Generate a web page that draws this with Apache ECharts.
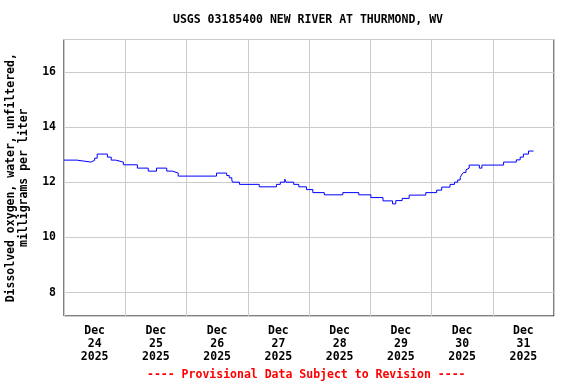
<!DOCTYPE html>
<html>
<head>
<meta charset="utf-8">
<script src="https://cdn.jsdelivr.net/npm/echarts@6/dist/echarts.min.js"></script>
<style>html,body{margin:0;padding:0;background:#fff;}#c{width:576px;height:384px;}</style>
</head>
<body>
<div id="c"></div>
<script>
// Data (UTC times, mg/L)
const times = [
  '2025-12-24T00:00','2025-12-24T05:00','2025-12-24T10:30','2025-12-24T12:00','2025-12-24T13:00',
  '2025-12-24T17:00','2025-12-24T18:30','2025-12-24T20:15','2025-12-24T23:15','2025-12-25T04:45',
  '2025-12-25T09:00','2025-12-25T12:15','2025-12-25T16:15','2025-12-25T18:30','2025-12-25T20:45',
  '2025-12-26T11:45','2025-12-26T15:45','2025-12-26T16:45','2025-12-26T17:45','2025-12-26T18:00',
  '2025-12-26T20:45','2025-12-27T04:30','2025-12-27T11:15','2025-12-27T12:45','2025-12-27T14:30',
  '2025-12-27T15:00','2025-12-27T18:00','2025-12-27T20:00','2025-12-27T23:00','2025-12-28T01:30',
  '2025-12-28T06:00','2025-12-28T13:15','2025-12-28T19:30','2025-12-29T00:15','2025-12-29T05:00',
  '2025-12-29T08:45','2025-12-29T10:00','2025-12-29T12:30','2025-12-29T15:15','2025-12-29T21:45',
  '2025-12-30T02:00','2025-12-30T04:00','2025-12-30T07:15','2025-12-30T09:00','2025-12-30T10:15',
  '2025-12-30T11:15','2025-12-30T11:45','2025-12-30T12:30','2025-12-30T13:30','2025-12-30T14:00',
  '2025-12-30T14:45','2025-12-30T18:45','2025-12-30T19:45','2025-12-31T04:15','2025-12-31T09:15',
  '2025-12-31T10:45','2025-12-31T12:00','2025-12-31T14:00','2025-12-31T16:00'
];
const oxygen = [
  12.81,12.74,12.80,12.88,13.03,
  12.92,12.81,12.74,12.64,12.52,
  12.41,12.52,12.41,12.34,12.23,
  12.34,12.25,12.17,12.09,12.01,
  11.93,11.84,11.93,12.01,12.12,
  12.01,11.93,11.84,11.74,11.63,
  11.55,11.63,11.55,11.45,11.33,
  11.22,11.34,11.42,11.54,11.63,
  11.72,11.83,11.93,12.01,12.09,
  12.18,12.27,12.36,12.46,12.52,
  12.63,12.52,12.63,12.74,12.82,
  12.92,13.03,13.14,13.14
];
const dayMonth = 'Dec';
const dayNumbers = ['24','25','26','27','28','29','30','31'];
const dayYear = '2025';
const yTicks = [8, 10, 12, 14, 16];

const titleText = 'USGS 03185400 NEW RIVER AT THURMOND, WV';
const footText = '---- Provisional Data Subject to Revision ----';
const yName = 'Dissolved oxygen, water, unfiltered,\nmilligrams per liter';

const FONT = '"DejaVu Sans Mono", "Liberation Mono", monospace';
const DAY = 86400000;
const xMin = Date.UTC(2025, 11, 24);
const xMax = Date.UTC(2026, 0, 1);
const toMs = s => new Date(s + ':00Z').getTime();
const seriesData = times.map((t, i) => [toMs(t), oxygen[i]]);
const dayLabels = dayNumbers.map(d => dayMonth + '\n' + d + '\n' + dayYear);

const chart = echarts.init(document.getElementById('c'), null, {renderer: 'canvas'});
chart.setOption({
  animation: false,
  backgroundColor: '#ffffff',
  title: [
    {text: titleText, left: 173, top: 14, padding: 0,
     textStyle: {fontFamily: FONT, fontSize: 11.5, fontWeight: 'bold', color: '#000'}},
    {text: footText, left: 147, top: 369, padding: 0,
     textStyle: {fontFamily: FONT, fontSize: 11.5, fontWeight: 'bold', color: '#ff0000'}}
  ],
  grid: {left: 64, top: 39.5, right: 22, bottom: 68, show: true, borderColor: '#000', borderWidth: 1,
         backgroundColor: 'transparent', containLabel: false, outerBoundsMode: 'none'},
  xAxis: [
    {type: 'value', min: xMin, max: xMax, interval: DAY,
     axisLine: {show: false}, axisTick: {show: false}, axisLabel: {show: false},
     splitLine: {show: true, lineStyle: {color: '#cccccc', width: 1}}},
    {type: 'category', data: dayLabels, position: 'bottom', boundaryGap: true,
     axisLine: {show: false}, axisTick: {show: false}, splitLine: {show: false},
     axisLabel: {interval: 0, margin: 8.5, lineHeight: 13, fontFamily: FONT, fontSize: 11.5, fontWeight: 'bold', color: '#000'}}
  ],
  yAxis: {
    type: 'value', min: 7.15, max: 17.19, splitNumber: 5,
    name: yName, nameLocation: 'middle', nameRotate: 90, nameGap: 33,
    nameTextStyle: {fontFamily: FONT, fontSize: 11.5, fontWeight: 'bold', color: '#000', lineHeight: 13, align: 'center'},
    axisLine: {show: false}, axisTick: {show: false},
    axisLabel: {margin: 8, fontFamily: FONT, fontSize: 11.5, fontWeight: 'bold', color: '#000',
      showMinLabel: false, showMaxLabel: false,
      formatter: v => (yTicks.indexOf(Math.round(v * 100) / 100) >= 0 ? String(v) : '')},
    splitLine: {show: true, lineStyle: {color: '#cccccc', width: 1}}
  },
  series: [{
    type: 'line', xAxisIndex: 0, data: seriesData, step: 'end', showSymbol: false, symbol: 'none',
    lineStyle: {color: '#0000ff', width: 1}, z: 5
  }]
});
</script>
</body>
</html>
